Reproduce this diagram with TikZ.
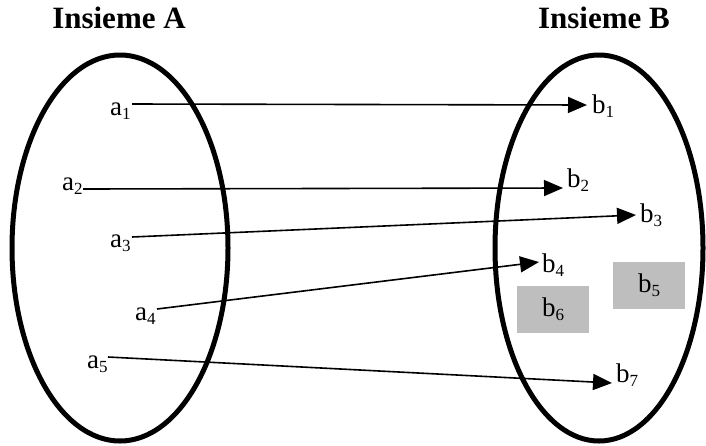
\documentclass[tikz,border=0pt]{standalone}
\usepackage{fontspec}
\setmainfont{Liberation Serif}
\usetikzlibrary{arrows.meta,shapes.geometric}
\definecolor{boxgray}{RGB}{190,190,190}
\newcommand\lsub[1]{\raisebox{-4pt}{\fontsize{17}{17}\selectfont #1}}
\begin{document}
\begin{tikzpicture}[x=1pt,y=-1pt,
  setshape/.style={draw,ellipse,line width=5pt,inner sep=0pt},
  lbl/.style={inner sep=0pt,anchor=base west,font=\fontsize{27}{27}\selectfont},
  ttl/.style={inner sep=0pt,anchor=base,font=\fontsize{31}{31}\selectfont\bfseries},
  arr/.style={line width=1.6pt,-{Triangle[length=19pt,width=16pt]}},
  graybox/.style={fill=boxgray,minimum width=72pt,minimum height=47pt,inner sep=0pt,font=\fontsize{27}{27}\selectfont}]
\useasboundingbox (0,0) rectangle (706,445);
% sets
\node[setshape,minimum width=216pt,minimum height=386pt] (setA) at (120,248) {};
\node[setshape,minimum width=208pt,minimum height=386pt] (setB) at (599,248) {};
% titles
\node[ttl] (tA) at (119,28) {Insieme A};
\node[ttl] (tB) at (604,28) {Insieme B};
% labels A
\node[lbl] (a1) at (110,115) {a\lsub{1}};
\node[lbl] (a2) at (62,190) {a\lsub{2}};
\node[lbl] (a3) at (110,247) {a\lsub{3}};
\node[lbl] (a4) at (135,320) {a\lsub{4}};
\node[lbl] (a5) at (87,368) {a\lsub{5}};
% labels B
\node[lbl] (b1) at (592,113) {b\lsub{1}};
\node[lbl] (b2) at (567,187) {b\lsub{2}};
\node[lbl] (b3) at (640,222) {b\lsub{3}};
\node[lbl] (b4) at (542,272) {b\lsub{4}};
\node[lbl] (b7) at (616,382) {b\lsub{7}};
\node[graybox] (b5) at (649,285.5) {b\lsub{5}};
\node[graybox] (b6) at (553,309.5) {b\lsub{6}};
% arrows
\draw[arr] ([shift={(22pt,11pt)}]a1.base west) -- ([shift={(-5pt,8pt)}]b1.base west);
\draw[arr] ([shift={(21pt,1pt)}]a2.base west) -- ([shift={(-4pt,-1pt)}]b2.base west);
\draw[arr] ([shift={(22pt,10pt)}]a3.base west) -- ([shift={(-4pt,7pt)}]b3.base west);
\draw[arr] ([shift={(22pt,11pt)}]a4.base west) -- ([shift={(-3pt,10pt)}]b4.base west);
\draw[arr] ([shift={(21pt,11pt)}]a5.base west) -- ([shift={(-4pt,-1pt)}]b7.base west);
\end{tikzpicture}
\end{document}
